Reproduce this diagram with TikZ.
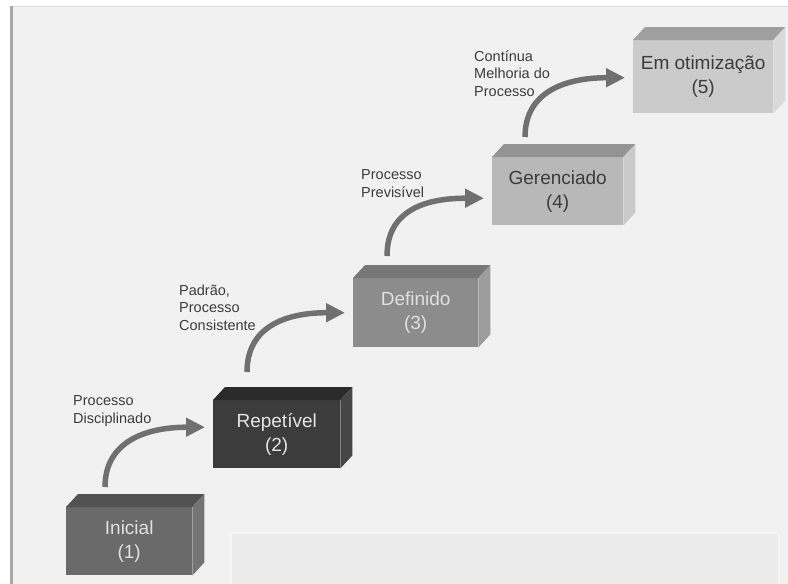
\documentclass[tikz,border=0pt]{standalone}
\usepackage{fontspec}
\setmainfont{Liberation Sans}
\usetikzlibrary{arrows.meta,calc}

\definecolor{panel}{HTML}{F1F1F1}
\definecolor{framegray}{HTML}{A8A8A8}
\definecolor{topline}{HTML}{DCDCDC}
\definecolor{notefill}{HTML}{EBEBEB}
\definecolor{noteedge}{HTML}{F6F6F6}
\definecolor{flowgray}{HTML}{707070}
\definecolor{labelgray}{HTML}{3C3C3C}
% stage colours: front / top / side
\definecolor{aF}{HTML}{6A6A6A}\definecolor{aT}{HTML}{525252}\definecolor{aS}{HTML}{747474}
\definecolor{bF}{HTML}{3C3C3C}\definecolor{bT}{HTML}{2A2A2A}\definecolor{bS}{HTML}{464646}
\definecolor{cF}{HTML}{8C8C8C}\definecolor{cT}{HTML}{777777}\definecolor{cS}{HTML}{9C9C9C}
\definecolor{dF}{HTML}{B8B8B8}\definecolor{dT}{HTML}{939393}\definecolor{dS}{HTML}{CACACA}
\definecolor{eF}{HTML}{CBCBCB}\definecolor{eT}{HTML}{9F9F9F}\definecolor{eS}{HTML}{D9D9D9}

% top and right faces of a stage block
\newcommand\blockfaces[3]{%
  \fill[#2] (#1.north west) -- ($(#1.north west)+(12,-13)$) -- ($(#1.north east)+(12,-13)$) -- (#1.north east) -- cycle;
  \fill[#3] (#1.north east) -- ($(#1.north east)+(12,-13)$) -- ($(#1.south east)+(12,-13)$) -- (#1.south east) -- cycle;
}

\tikzset{
  stagebox/.style={rectangle, inner sep=0pt, anchor=north west, align=center,
    font=\fontsize{19}{24}\selectfont},
  flow/.style={draw=flowgray, line width=5.5pt,
    -{Triangle[length=19pt,width=18pt]}, shorten >=8pt},
  steplabel/.style={inner sep=0pt, anchor=base west, align=left, text=labelgray,
    font=\fontsize{14.5}{17.5}\selectfont},
}

\begin{document}
\begin{tikzpicture}[x=1pt,y=-1pt]
\useasboundingbox (0,0) rectangle (788,584);
\fill[white] (0,0) rectangle (788,584);
\fill[panel] (11,7) rectangle (788,584);
\draw[topline, line width=1pt] (11,6.5) -- (788,6.5);
\draw[framegray, line width=2.5pt] (11.5,6) -- (11.5,584);
\filldraw[fill=notefill, draw=noteedge, line width=1.5pt] (231,533) rectangle (779,590);

% stage blocks (front faces)
\node[stagebox, fill=aF, text=white!88!black, minimum width=126pt, minimum height=68pt] (b1) at (66,507) {Inicial\\(1)};
\node[stagebox, fill=bF, text=white!90!black, minimum width=127pt, minimum height=68pt] (b2) at (213,400) {Repetível\\(2)};
\node[stagebox, fill=cF, text=white!88!black, minimum width=125pt, minimum height=69pt] (b3) at (353,278) {Definido\\(3)};
\node[stagebox, fill=dF, text=labelgray, minimum width=131pt, minimum height=68pt] (b4) at (492,157) {Gerenciado\\(4)};
\node[stagebox, fill=eF, text=labelgray, minimum width=140pt, minimum height=73pt] (b5) at (633,40) {Em otimização\\(5)};

\blockfaces{b1}{aT}{aS}
\blockfaces{b2}{bT}{bS}
\blockfaces{b3}{cT}{cS}
\blockfaces{b4}{dT}{dS}
\blockfaces{b5}{eT}{eS}

% transitions
\coordinate (s1) at (105,487);
\coordinate (s2) at (247,372);
\coordinate (s3) at (387,256);
\coordinate (s4) at (525,137);
\draw[flow] (s1) .. controls +(0,-45) and +(-68,0) .. ([yshift=7pt]b2.west);
\draw[flow] (s2) .. controls +(0,-45) and +(-68,0) .. (b3.west);
\draw[flow] (s3) .. controls +(0,-45) and +(-68,0) .. ([yshift=-7pt]b4.west);
\draw[flow] (s4) .. controls +(0,-45) and +(-68,0) .. ([yshift=-1pt]b5.west);

% transition labels (base anchor sits on the last line)
\node[steplabel] (t1) at (73,423) {Processo\\Disciplinado};
\node[steplabel] (t2) at (179,330) {Padrão,\\Processo\\Consistente};
\node[steplabel] (t3) at (361,197) {Processo\\Previsível};
\node[steplabel] (t4) at (474,96) {Contínua\\Melhoria do\\Processo};
\end{tikzpicture}
\end{document}
